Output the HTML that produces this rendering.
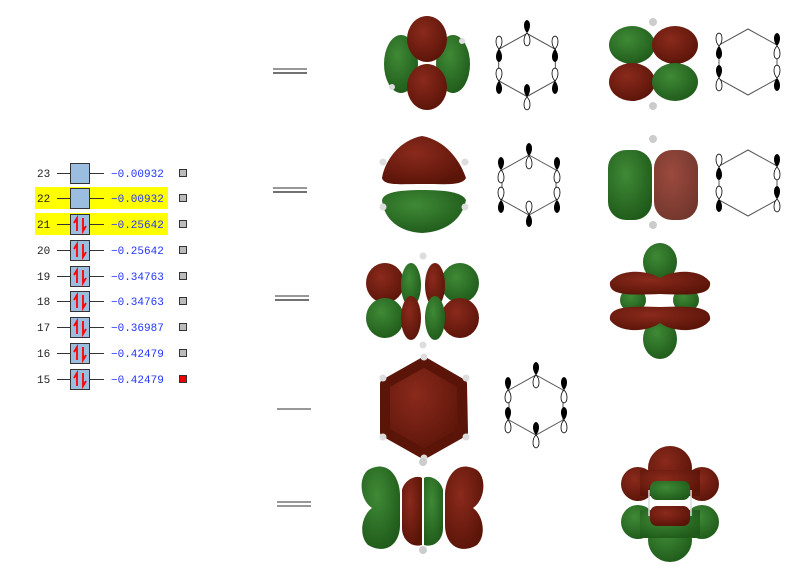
<!DOCTYPE html>
<html><head><meta charset="utf-8"><style>
body{margin:0;background:#fff;width:800px;height:573px;overflow:hidden;font-family:"Liberation Mono",monospace}
</style></head><body>
<svg width="800" height="573" viewBox="0 0 800 573" xmlns="http://www.w3.org/2000/svg">
<defs>
<radialGradient id="R" cx="40%" cy="35%" r="70%"><stop offset="0" stop-color="#8a2a1c"/><stop offset="1" stop-color="#5a1408"/></radialGradient>
<radialGradient id="G" cx="40%" cy="35%" r="70%"><stop offset="0" stop-color="#3f8a36"/><stop offset="1" stop-color="#1f5a1a"/></radialGradient>
<g id="pu"><path d="M0,0 C-4,-4 -4,-12 0,-13 C4,-12 4,-4 0,0Z" fill="#000"/><path d="M0,0 C-4,4 -4,12 0,13 C4,12 4,4 0,0Z" fill="#fff" stroke="#000" stroke-width="0.8"/></g>
<g id="pd"><path d="M0,0 C-4,-4 -4,-12 0,-13 C4,-12 4,-4 0,0Z" fill="#fff" stroke="#000" stroke-width="0.8"/><path d="M0,0 C-4,4 -4,12 0,13 C4,12 4,4 0,0Z" fill="#000"/></g>
<polygon id="hx" points="0,-30 27,-15 27,15 0,30 -27,15 -27,-15" fill="none" stroke="#555" stroke-width="1"/>
<g id="up" stroke="#f00" stroke-width="1.8" fill="none"><path d="M6,17 L6,4 L3,9"/><path d="M12,4 L12,17 L15,12"/></g>
</defs>

<!-- energy table -->
<rect x="35" y="187" width="133" height="22" fill="#ffff00"/>
<rect x="35" y="213" width="133" height="22" fill="#ffff00"/>
<g font-size="11" fill="#222">
<text x="37" y="177">23</text><text x="37" y="202">22</text><text x="37" y="228">21</text><text x="37" y="254">20</text><text x="37" y="280">19</text><text x="37" y="305">18</text><text x="37" y="331">17</text><text x="37" y="357">16</text><text x="37" y="383">15</text>
</g>
<g font-size="11" fill="#2233ff">
<text x="111" y="177">−0.00932</text><text x="111" y="202">−0.00932</text><text x="111" y="228">−0.25642</text><text x="111" y="254">−0.25642</text><text x="111" y="280">−0.34763</text><text x="111" y="305">−0.34763</text><text x="111" y="331">−0.36987</text><text x="111" y="357">−0.42479</text><text x="111" y="383">−0.42479</text>
</g>
<g stroke="#333" stroke-width="1">
<line x1="57" y1="173.5" x2="104" y2="173.5"/><line x1="57" y1="198.5" x2="104" y2="198.5"/><line x1="57" y1="224.5" x2="104" y2="224.5"/><line x1="57" y1="250.5" x2="104" y2="250.5"/><line x1="57" y1="276.5" x2="104" y2="276.5"/><line x1="57" y1="301.5" x2="104" y2="301.5"/><line x1="57" y1="327.5" x2="104" y2="327.5"/><line x1="57" y1="353.5" x2="104" y2="353.5"/><line x1="57" y1="379.5" x2="104" y2="379.5"/>
</g>
<g fill="#9bbde0" stroke="#333" stroke-width="1">
<rect x="70.5" y="163.5" width="19" height="20"/><rect x="70.5" y="188.5" width="19" height="20"/><rect x="70.5" y="214.5" width="19" height="20"/><rect x="70.5" y="240.5" width="19" height="20"/><rect x="70.5" y="266.5" width="19" height="20"/><rect x="70.5" y="291.5" width="19" height="20"/><rect x="70.5" y="317.5" width="19" height="20"/><rect x="70.5" y="343.5" width="19" height="20"/><rect x="70.5" y="369.5" width="19" height="20"/>
</g>
<use href="#up" x="71" y="214"/><use href="#up" x="71" y="240"/><use href="#up" x="71" y="266"/><use href="#up" x="71" y="291"/><use href="#up" x="71" y="317"/><use href="#up" x="71" y="343"/><use href="#up" x="71" y="369"/>
<g fill="#bbb" stroke="#333" stroke-width="1">
<rect x="179.5" y="169.5" width="7" height="7"/><rect x="179.5" y="194.5" width="7" height="7"/><rect x="179.5" y="220.5" width="7" height="7"/><rect x="179.5" y="246.5" width="7" height="7"/><rect x="179.5" y="272.5" width="7" height="7"/><rect x="179.5" y="297.5" width="7" height="7"/><rect x="179.5" y="323.5" width="7" height="7"/><rect x="179.5" y="349.5" width="7" height="7"/><rect x="179.5" y="375.5" width="7" height="7" fill="#e00"/>
</g>

<!-- level lines -->
<g stroke="#777" stroke-width="1.5">
<line x1="273" y1="69" x2="307" y2="69"/><line x1="273" y1="73" x2="307" y2="73" stroke="#444"/>
<line x1="273" y1="188" x2="307" y2="188"/><line x1="273" y1="192" x2="307" y2="192" stroke="#444"/>
<line x1="275" y1="296" x2="309" y2="296"/><line x1="275" y1="300" x2="309" y2="300" stroke="#444"/>
<line x1="277" y1="409" x2="311" y2="409"/>
<line x1="277" y1="502" x2="311" y2="502"/><line x1="277" y1="506" x2="311" y2="506"/>
</g>

<!-- row1 -->
<ellipse cx="401" cy="64" rx="17" ry="29" fill="url(#G)"/><ellipse cx="453" cy="64" rx="17" ry="29" fill="url(#G)"/>
<ellipse cx="427" cy="39" rx="20" ry="23" fill="url(#R)"/><ellipse cx="427" cy="87" rx="20" ry="23" fill="url(#R)"/>
<circle cx="392" cy="87" r="3" fill="#ddd"/><circle cx="462" cy="41" r="3" fill="#ddd"/>
<g transform="translate(527,65)"><use href="#hx" transform="scale(1.05)"/><use href="#pu" y="-32"/><use href="#pd" x="-28" y="-16"/><use href="#pd" x="28" y="-16"/><use href="#pd" x="-28" y="16"/><use href="#pd" x="28" y="16"/><use href="#pu" y="32"/></g>
<ellipse cx="632" cy="45" rx="23" ry="19" fill="url(#G)"/><ellipse cx="675" cy="45" rx="23" ry="19" fill="url(#R)"/>
<ellipse cx="632" cy="82" rx="23" ry="19" fill="url(#R)"/><ellipse cx="675" cy="82" rx="23" ry="19" fill="url(#G)"/>
<circle cx="653" cy="22" r="4" fill="#ccc"/><circle cx="653" cy="106" r="4" fill="#ccc"/>
<g transform="translate(748,62)"><polygon points="0,-33 29,-17 29,17 0,33 -29,17 -29,-17" fill="none" stroke="#555"/><use href="#pd" x="-29" y="-16"/><use href="#pu" x="29" y="-16"/><use href="#pu" x="-29" y="16"/><use href="#pd" x="29" y="16"/></g>

<!-- row2 -->
<path d="M382,178 C385,160 400,140 422,136 C445,140 460,160 466,178 C462,186 445,184 422,184 C400,184 384,186 382,178Z" fill="url(#R)"/>
<path d="M382,200 C384,192 400,190 422,190 C445,190 462,192 466,200 C462,220 445,232 422,233 C400,232 384,220 382,200Z" fill="url(#G)"/>
<circle cx="383" cy="162" r="3.5" fill="#ddd"/><circle cx="465" cy="162" r="3.5" fill="#ddd"/><circle cx="383" cy="207" r="3.5" fill="#ddd"/><circle cx="465" cy="207" r="3.5" fill="#ddd"/>
<g transform="translate(529,185)"><use href="#hx"/><use href="#pu" y="-29"/><use href="#pu" x="-28" y="-15"/><use href="#pu" x="28" y="-15"/><use href="#pd" x="-28" y="15"/><use href="#pd" x="28" y="15"/><use href="#pd" y="29"/></g>
<rect x="608" y="150" width="44" height="70" rx="18" fill="url(#G)"/><rect x="654" y="150" width="44" height="70" rx="18" fill="url(#R)" opacity="0.85"/>
<circle cx="653" cy="139" r="4" fill="#ccc"/><circle cx="653" cy="225" r="4" fill="#ccc"/>
<g transform="translate(748,183)"><polygon points="0,-33 29,-17 29,17 0,33 -29,17 -29,-17" fill="none" stroke="#555"/><use href="#pd" x="-29" y="-16"/><use href="#pu" x="29" y="-16"/><use href="#pd" x="-29" y="16"/><use href="#pu" x="29" y="16"/></g>

<!-- row3 -->
<ellipse cx="385" cy="283" rx="19" ry="20" fill="url(#R)"/><ellipse cx="460" cy="283" rx="19" ry="20" fill="url(#G)"/>
<ellipse cx="385" cy="318" rx="19" ry="20" fill="url(#G)"/><ellipse cx="460" cy="318" rx="19" ry="20" fill="url(#R)"/>
<ellipse cx="411" cy="285" rx="10" ry="22" fill="url(#G)"/><ellipse cx="435" cy="285" rx="10" ry="22" fill="url(#R)"/>
<ellipse cx="411" cy="318" rx="10" ry="22" fill="url(#R)"/><ellipse cx="435" cy="318" rx="10" ry="22" fill="url(#G)"/>
<circle cx="423" cy="256" r="3.5" fill="#ddd"/><circle cx="423" cy="345" r="3.5" fill="#ddd"/>
<ellipse cx="660" cy="262" rx="17" ry="19" fill="url(#G)"/><ellipse cx="660" cy="339" rx="17" ry="20" fill="url(#G)"/>
<ellipse cx="633" cy="300" rx="13" ry="12" fill="url(#G)"/><ellipse cx="686" cy="300" rx="13" ry="12" fill="url(#G)"/>
<path d="M610,282 C620,268 648,270 660,278 C672,270 700,268 710,282 C712,296 690,295 660,294 C630,295 608,296 610,282Z" fill="url(#R)"/>
<path d="M610,320 C608,306 630,306 660,307 C690,306 712,306 710,320 C700,334 672,332 660,323 C648,332 620,334 610,320Z" fill="url(#R)"/>

<!-- row4 -->
<polygon points="424,362 462,384 463,432 424,454 385,432 385,384" fill="url(#R)" stroke="#5a1408" stroke-linejoin="round" stroke-width="10"/>
<g fill="#ddd"><circle cx="424" cy="357" r="3.5"/><circle cx="424" cy="458" r="3.5"/><circle cx="383" cy="378" r="3.5"/><circle cx="466" cy="378" r="3.5"/><circle cx="383" cy="437" r="3.5"/><circle cx="466" cy="437" r="3.5"/></g>
<g transform="translate(536,405)"><use href="#hx"/><use href="#pu" y="-30"/><use href="#pu" x="-28" y="-15"/><use href="#pu" x="28" y="-15"/><use href="#pu" x="-28" y="15"/><use href="#pu" x="28" y="15"/><use href="#pu" y="30"/></g>

<!-- row5 -->
<path d="M368,470 C390,458 400,480 400,495 L400,525 C400,545 385,555 368,545 C358,535 362,515 372,508 C360,500 358,478 368,470Z" fill="url(#G)"/>
<path d="M477,470 C455,458 445,480 445,495 L445,525 C445,545 460,555 477,545 C487,535 483,515 473,508 C485,500 487,478 477,470Z" fill="url(#R)"/>
<path d="M402,490 C405,478 418,475 422,478 L422,545 C412,548 402,540 402,528Z" fill="url(#R)"/>
<path d="M443,490 C440,478 428,475 424,478 L424,545 C434,548 443,540 443,528Z" fill="url(#G)"/>
<circle cx="423" cy="462" r="4" fill="#ccc"/><circle cx="423" cy="550" r="4" fill="#ccc"/>
<g fill="url(#R)"><circle cx="670" cy="468" r="22"/><circle cx="638" cy="484" r="17"/><circle cx="702" cy="484" r="17"/><rect x="640" y="470" width="60" height="26"/></g>
<g fill="url(#G)"><circle cx="670" cy="540" r="22"/><circle cx="638" cy="522" r="17"/><circle cx="702" cy="522" r="17"/><rect x="640" y="510" width="60" height="28"/></g>
<rect x="650" y="481" width="40" height="19" rx="7" fill="url(#G)"/><rect x="650" y="506" width="40" height="20" rx="7" fill="url(#R)"/>
<g stroke="#ddd" stroke-width="1.5"><line x1="649" y1="490" x2="649" y2="516"/><line x1="691" y1="490" x2="691" y2="516"/></g>
</svg>
</body></html>
